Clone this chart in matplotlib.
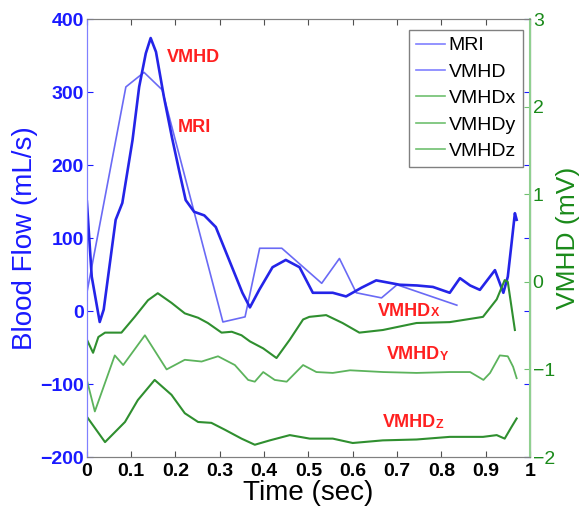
import matplotlib
matplotlib.use("Agg")
import matplotlib.pyplot as plt
from matplotlib.ticker import MultipleLocator

plt.rcParams['font.family'] = ['Liberation Sans', 'DejaVu Sans']

# MRI flow (mL/s), piecewise from the picture
mri_t = [0, 0.088, 0.129, 0.17, 0.307, 0.357, 0.39, 0.44, 0.53, 0.57, 0.608, 0.665, 0.70, 0.835]
mri_flow = [25, 307, 327, 303, -15, -8, 86, 86, 38, 72, 25, 18, 36, 8]

# VMHD derived flow (mL/s)
vmhd_t = [0, 0.011, 0.029, 0.038, 0.065, 0.08, 0.103, 0.118, 0.133, 0.144, 0.156,
          0.174, 0.192, 0.208, 0.223, 0.242, 0.265, 0.291, 0.321, 0.351, 0.368,
          0.389, 0.419, 0.449, 0.48, 0.51, 0.555, 0.585, 0.62, 0.653, 0.706,
          0.745, 0.781, 0.819, 0.842, 0.865, 0.887, 0.921, 0.94, 0.95, 0.958,
          0.966, 0.97]
vmhd_flow = [150, 47, -15, 2, 125, 148, 234, 307, 353, 374, 355,
             293, 238, 193, 152, 136, 131, 115, 70, 25, 5,
             29, 60, 70, 60, 25, 25, 20, 32, 42, 36,
             35, 33, 25, 45, 35, 29, 56, 25, 47, 90,
             134, 125]

# VMHD components (mV)
gx_t = [0, 0.014, 0.026, 0.041, 0.078, 0.108, 0.138, 0.16, 0.191, 0.221, 0.251,
        0.273, 0.304, 0.327, 0.349, 0.368, 0.398, 0.428, 0.458, 0.488, 0.502,
        0.54, 0.577, 0.615, 0.668, 0.744, 0.819, 0.894, 0.925, 0.943, 0.95, 0.966]
gx_mv = [-0.66, -0.81, -0.63, -0.58, -0.58, -0.40, -0.21, -0.13, -0.24, -0.36, -0.41,
         -0.47, -0.58, -0.57, -0.61, -0.68, -0.76, -0.87, -0.66, -0.43, -0.40,
         -0.38, -0.47, -0.58, -0.55, -0.47, -0.46, -0.40, -0.2, 0.02, 0.0, -0.55]

gy_t = [0, 0.018, 0.063, 0.082, 0.131, 0.18, 0.221, 0.259, 0.296, 0.334, 0.364,
        0.379, 0.398, 0.424, 0.451, 0.488, 0.518, 0.555, 0.594, 0.669, 0.744,
        0.819, 0.865, 0.895, 0.91, 0.932, 0.95, 0.962, 0.97]
gy_mv = [-1.12, -1.48, -0.84, -0.95, -0.61, -1.0, -0.89, -0.91, -0.85, -0.95, -1.12,
         -1.14, -1.03, -1.12, -1.14, -0.95, -1.03, -1.04, -1.01, -1.03, -1.04,
         -1.03, -1.03, -1.12, -1.04, -0.84, -0.85, -0.97, -1.1]

gz_t = [0, 0.041, 0.086, 0.115, 0.153, 0.191, 0.221, 0.251, 0.281, 0.312, 0.349,
        0.379, 0.413, 0.458, 0.503, 0.555, 0.6, 0.668, 0.744, 0.819, 0.894,
        0.925, 0.943, 0.958, 0.97]
gz_mv = [-1.54, -1.83, -1.6, -1.35, -1.12, -1.29, -1.5, -1.6, -1.61, -1.69, -1.79,
         -1.86, -1.81, -1.75, -1.79, -1.79, -1.84, -1.81, -1.8, -1.77, -1.77,
         -1.75, -1.79, -1.66, -1.56]

# red labels: (main text, small suffix, t, flow)
labels = [('VMHD', '', 0.181, 348), ('MRI', '', 0.205, 252),
          ('VMHD', 'X', 0.657, 0), ('VMHD', 'Y', 0.677, -60), ('VMHD', 'Z', 0.668, -153)]

blue = '#1a1aff'
green = '#1a8a1a'
red = '#ff2020'

fig = plt.figure(figsize=(5.83, 5.15), dpi=100)
ax = fig.add_axes([0.149, 0.1126, 0.76, 0.8504])
ax2 = ax.twinx()

l1, = ax.plot(mri_t, mri_flow, color='#6a6af5', lw=1.2, label='MRI')
l2, = ax.plot(vmhd_t, vmhd_flow, color='#2424e8', lw=1.9, label='VMHD')
l3, = ax2.plot(gx_t, gx_mv, color='#2f8f2f', lw=1.5, label='VMHDx')
l4, = ax2.plot(gy_t, gy_mv, color='#5cb35c', lw=1.3, label='VMHDy')
l5, = ax2.plot(gz_t, gz_mv, color='#2f8f2f', lw=1.5, label='VMHDz')

ax.set_xlim(0, 1)
ax.set_ylim(-200, 400)
ax2.set_ylim(-2, 3)
ax.xaxis.set_major_locator(MultipleLocator(0.1))
ax.yaxis.set_major_locator(MultipleLocator(100))
ax2.yaxis.set_major_locator(MultipleLocator(1))
ax.xaxis.set_major_formatter(plt.FuncFormatter(lambda v, p: ('%.1f' % v).rstrip('0').rstrip('.') if v else '0'))

ax.tick_params(axis='x', direction='in', top=True, length=4, colors='#505050',
               labelcolor='black', labelsize=14, pad=4)
ax.tick_params(axis='y', direction='in', right=True, length=4, colors=blue,
               labelcolor=blue, labelsize=14, pad=2)
ax2.tick_params(axis='y', direction='in', length=4, colors='#70c070',
                labelcolor=green, labelsize=14, pad=2)
for lab in ax.get_xticklabels() + ax.get_yticklabels():
    lab.set_fontweight('bold')

ax.spines['left'].set_color('#8080ff')
ax2.spines['left'].set_color('#8080ff')
ax2.spines['right'].set_color('#90d090')
ax2.spines['right'].set_linewidth(1.5)
for s in ['top', 'bottom']:
    ax.spines[s].set_color('#808080')
    ax2.spines[s].set_color('#808080')

ax.set_xlabel('Time (sec)', fontsize=20, labelpad=0)
ax.set_ylabel('Blood Flow (mL/s)', fontsize=20, color=blue, labelpad=2)
ax2.set_ylabel('VMHD (mV)', fontsize=19, color=green, labelpad=1)

for main, sub, t, f in labels:
    txt = ax.text(t, f, main, color=red, fontsize=13, fontweight='bold', va='center')
    if sub:
        ax.annotate(sub, xy=(1, 0.02), xycoords=txt, ha='left', va='bottom',
                    color=red, fontsize=9, fontweight='bold')

leg = ax2.legend(handles=[l1, l2, l3, l4, l5], loc='upper right',
                 bbox_to_anchor=(0.984, 0.975), borderaxespad=0, fancybox=False,
                 edgecolor='#606060', fontsize=14, handlelength=1.5,
                 handletextpad=0.2, labelspacing=0.45, borderpad=0.35)
for h, c in zip(leg.get_lines(), ['#8080ff', '#8080ff', '#70c070', '#70c070', '#70c070']):
    h.set_color(c)
    h.set_linewidth(1.2)
leg.get_frame().set_linewidth(1.0)

fig.savefig('out.png', dpi=100)
